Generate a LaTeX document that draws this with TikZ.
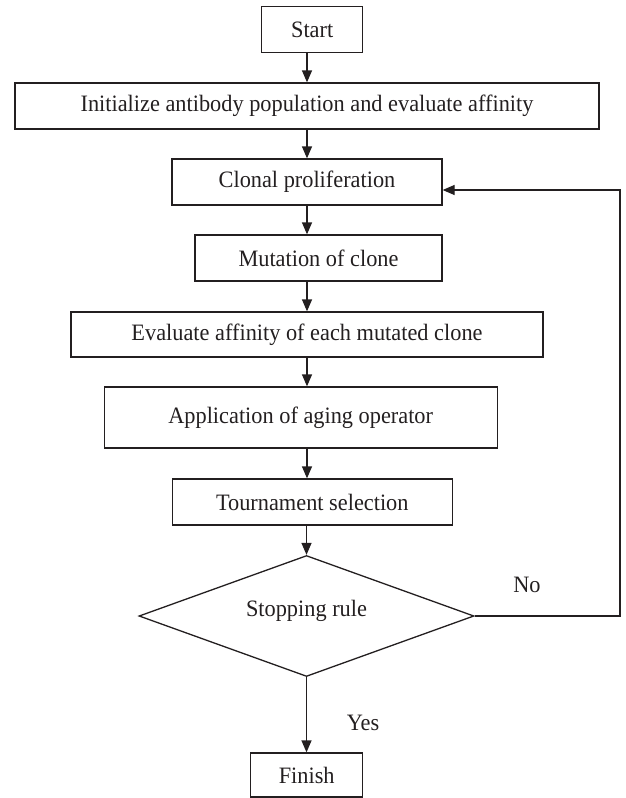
\documentclass[tikz,border=0pt]{standalone}
\usepackage{fontspec}
\setmainfont{Liberation Serif}[FakeStretch=0.95]
\usetikzlibrary{arrows.meta,shapes.geometric}
\definecolor{ink}{HTML}{231F20}
\begin{document}
\begin{tikzpicture}[x=1pt,y=-1pt,
  every node/.style={font=\fontsize{23.5}{27}\selectfont, text=ink},
  box/.style={draw=ink, line width=1.3pt, rectangle, inner sep=0pt},
  arr/.style={draw=ink, line width=1.3pt, -{Triangle[length=12pt,width=10pt]}},
  ln/.style={draw=ink, line width=1.3pt}]
\useasboundingbox (0,0) rectangle (626,798);
\node[box, minimum width=101pt, minimum height=46pt] (start) at (312.2,29.7) {Start};
\node[box, minimum width=584pt, minimum height=46pt] (init) at (307,106) {Initialize antibody population and evaluate affinity};
\node[box, minimum width=270pt, minimum height=46pt] (clonal) at (307,182) {Clonal proliferation};
\node[box, minimum width=247pt, minimum height=46pt] (mut) at (318.5,258) {Mutation of clone};
\node[box, minimum width=472pt, minimum height=45pt] (eval) at (307,334.5) {Evaluate affinity of each mutated clone};
\node[box, minimum width=393pt, minimum height=61pt] (aging) at (300.7,417.5) {Application of aging operator};
\node[box, minimum width=280pt, minimum height=46pt] (tour) at (312.3,502) {Tournament selection};
\node[draw=ink, line width=1.3pt, diamond, inner sep=0pt, minimum width=335pt, minimum height=121pt] (dec) at (306.5,616) {};
\node (declabel) at (306.5,611) {Stopping rule};
\node[box, minimum width=112pt, minimum height=44pt] (fin) at (306.7,775) {Finish};
\coordinate (axis) at (307,0);
\coordinate (fb) at (620,616);
\node (no) at (527,585) {No};
\node (yes) at (363,723) {Yes};
\draw[arr] (start.south -| axis) -- (init.north -| axis);
\draw[arr] (init.south -| axis) -- (clonal.north -| axis);
\draw[arr] (clonal.south -| axis) -- (mut.north -| axis);
\draw[arr] (mut.south -| axis) -- (eval.north -| axis);
\draw[arr] (eval.south -| axis) -- (aging.north -| axis);
\draw[arr] (aging.south -| axis) -- (tour.north -| axis);
\draw[arr] (tour.south -| dec.north) -- (dec.north);
\draw[arr] (dec.south) -- (fin.north -| dec.south);
\draw[arr] (dec.east) -- (fb) |- ([yshift=-8pt]clonal.east);
\end{tikzpicture}
\end{document}
